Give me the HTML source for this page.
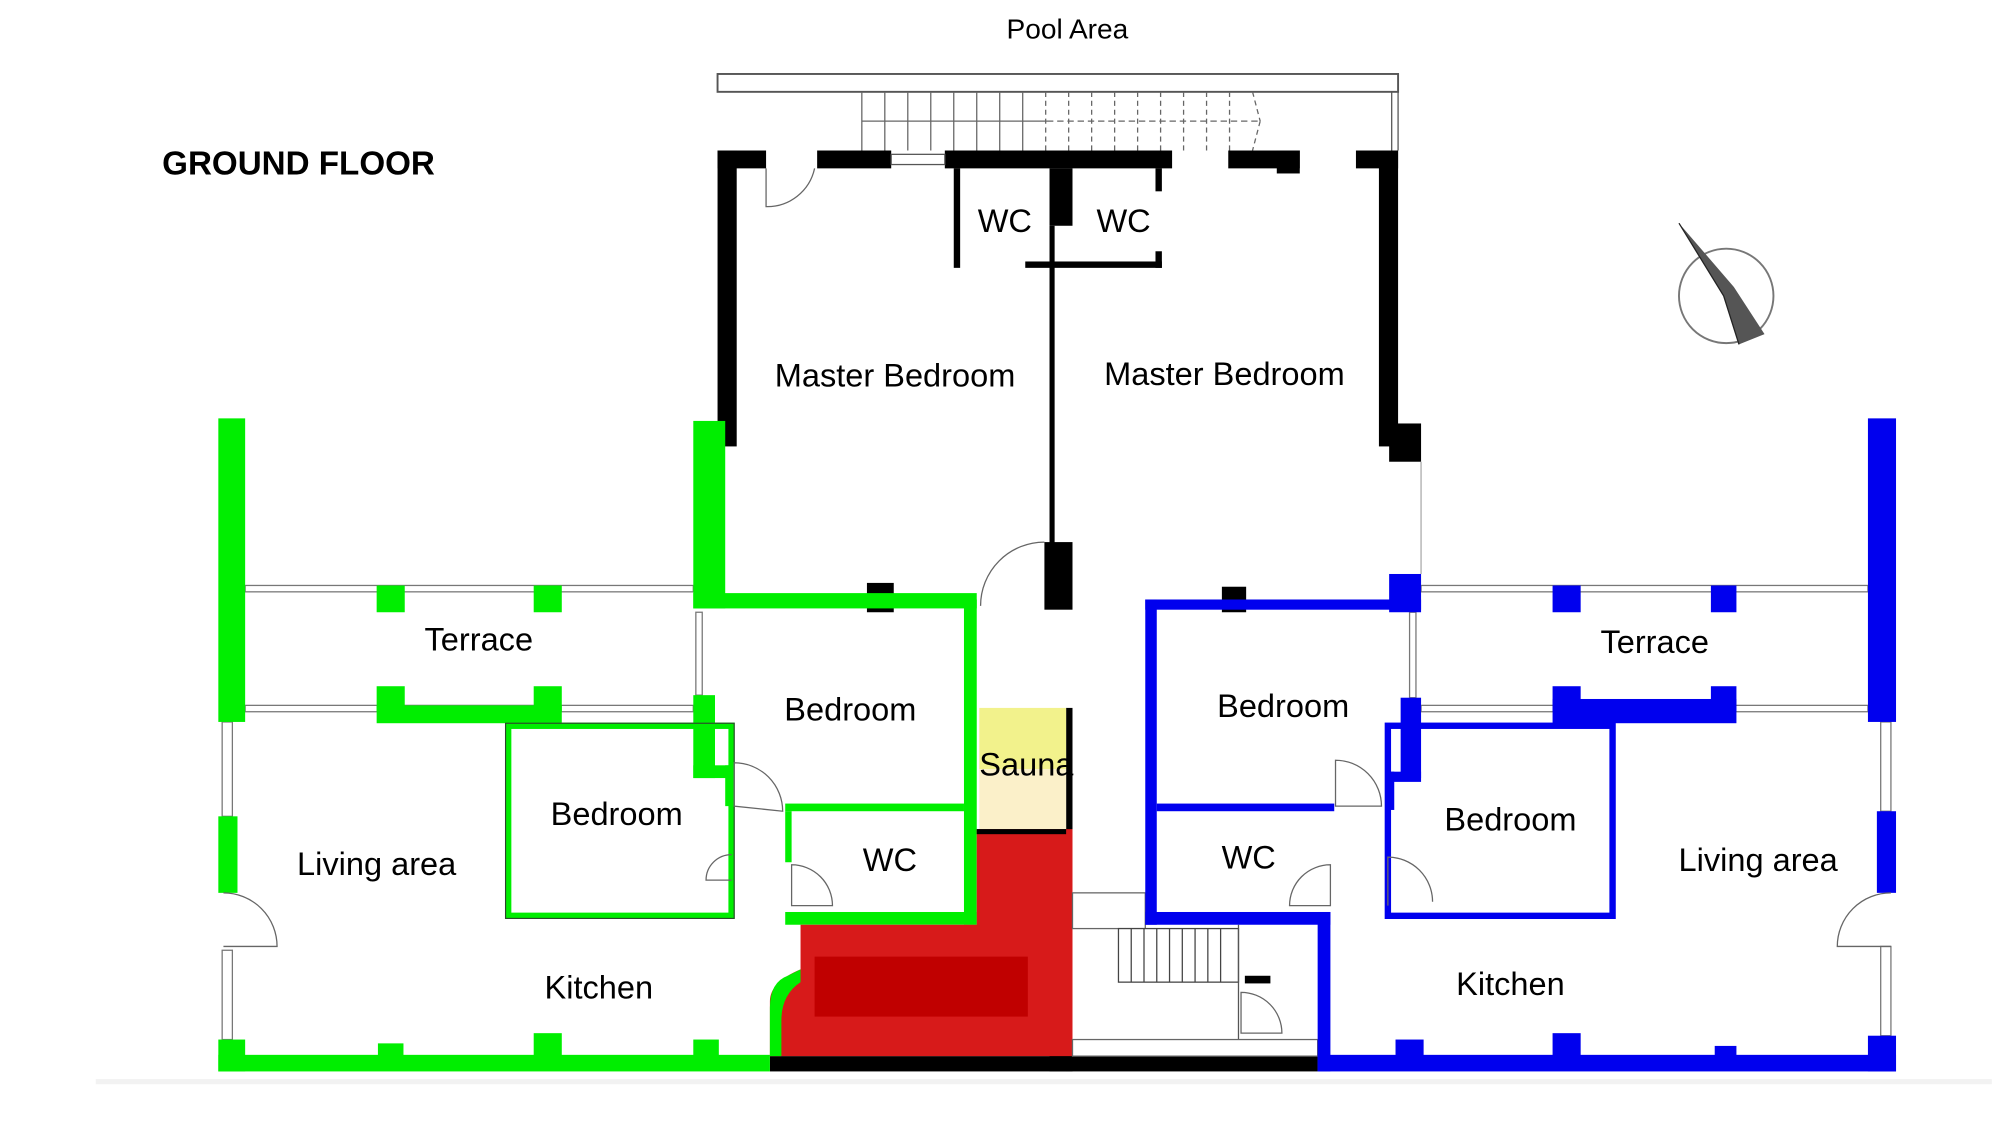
<!DOCTYPE html>
<html><head><meta charset="utf-8"><style>
html,body{margin:0;padding:0;background:#fff;}
svg{display:block;}
text{font-family:"Liberation Sans",sans-serif;fill:#000;}
</style></head><body>
<svg width="2002" height="1125" viewBox="0 0 1568 882" preserveAspectRatio="none" xmlns="http://www.w3.org/2000/svg">
<rect width="1568" height="882" fill="#fff"/>
<rect x="75" y="846" width="1485" height="4" fill="#f2f2f2"/>
<rect x="562" y="58" width="533" height="14" fill="#fff" stroke="#555" stroke-width="1.5"/>
<line x1="1090" y1="72" x2="1090" y2="118" stroke="#555"/>
<line x1="1095" y1="72" x2="1095" y2="118" stroke="#555"/>
<g stroke="#666" stroke-width="1">
<line x1="675" y1="95" x2="820" y2="95"/>
<line x1="820" y1="95" x2="985" y2="95" stroke-dasharray="5,3"/>
<line x1="675" y1="72" x2="675" y2="118"/><line x1="693" y1="72" x2="693" y2="118"/><line x1="711" y1="72" x2="711" y2="118"/><line x1="729" y1="72" x2="729" y2="118"/><line x1="747" y1="72" x2="747" y2="118"/><line x1="765" y1="72" x2="765" y2="118"/><line x1="783" y1="72" x2="783" y2="118"/><line x1="801" y1="72" x2="801" y2="118"/>
<g stroke-dasharray="4,3"><line x1="819" y1="72" x2="819" y2="118"/><line x1="837" y1="72" x2="837" y2="118"/><line x1="855" y1="72" x2="855" y2="118"/><line x1="873" y1="72" x2="873" y2="118"/><line x1="891" y1="72" x2="891" y2="118"/><line x1="909" y1="72" x2="909" y2="118"/><line x1="927" y1="72" x2="927" y2="118"/><line x1="945" y1="72" x2="945" y2="118"/><line x1="963" y1="72" x2="963" y2="118"/><line x1="981" y1="72" x2="987" y2="95"/><line x1="987" y1="95" x2="981" y2="118"/></g>
</g>
<g fill="#000">
<rect x="562" y="118" width="38" height="14"/>
<rect x="640" y="118" width="58" height="14"/>
<rect x="740" y="118" width="178" height="14"/>
<rect x="962" y="118" width="56" height="14"/>
<rect x="1000" y="118" width="18" height="18"/>
<rect x="1062" y="118" width="33" height="14"/>
<rect x="562" y="118" width="15" height="232"/>
<rect x="1080" y="118" width="15" height="232"/>
<rect x="1088" y="332" width="25" height="30"/>
<rect x="747" y="132" width="5" height="78"/>
<rect x="822" y="132" width="18" height="45"/>
<rect x="822" y="177" width="4" height="250"/>
<rect x="818" y="425" width="22" height="53"/>
<rect x="803" y="205" width="107" height="5"/>
<rect x="905" y="132" width="5" height="18"/>
<rect x="905" y="197" width="5" height="13"/>
<rect x="679" y="457" width="21" height="23"/>
<rect x="957" y="460" width="19" height="20"/>
<rect x="835" y="555" width="5" height="285"/>
<rect x="603" y="828" width="429" height="12"/>
<rect x="822" y="710" width="18" height="20"/>
<rect x="822" y="768" width="18" height="72"/>
</g>
<rect x="698" y="121" width="42" height="8" fill="#fff" stroke="#555" stroke-width="1"/>
<path d="M600 132 V162 A38 38 0 0 0 638 132" fill="none" stroke="#666"/>
<path d="M818 425 A50 50 0 0 0 768 475" fill="none" stroke="#666"/>
<line x1="1113" y1="362" x2="1113" y2="450" stroke="#aaa"/>
<g fill="#fff" stroke="#777" stroke-width="1">
<rect x="192" y="459" width="351" height="5"/>
<rect x="192" y="553" width="351" height="5"/>
<rect x="1113" y="459" width="350" height="5"/>
<rect x="1113" y="553" width="350" height="5"/>
<rect x="545" y="480" width="5" height="65"/>
<rect x="1104" y="480" width="5" height="67"/>
<rect x="174" y="566" width="8" height="74"/>
<rect x="174" y="745" width="8" height="70"/>
<rect x="1473" y="566" width="8" height="70"/>
<rect x="1473" y="742" width="8" height="70"/>
</g>
<g fill="#00ee00">
<rect x="171" y="328" width="21" height="238"/>
<rect x="171" y="640" width="15" height="60"/>
<rect x="171" y="815" width="21" height="25"/>
<rect x="171" y="827" width="432" height="13"/>
<rect x="296" y="818" width="20" height="10"/><rect x="418" y="810" width="22" height="18"/><rect x="543" y="815" width="20" height="13"/>
<rect x="295" y="459" width="22" height="21"/><rect x="418" y="459" width="22" height="21"/>
<rect x="295" y="553" width="145" height="14"/><rect x="295" y="538" width="22" height="20"/><rect x="418" y="538" width="22" height="20"/>
<rect x="543" y="330" width="25" height="147"/>
<rect x="543" y="465" width="222" height="12"/>
<rect x="755" y="470" width="10" height="255"/>
<rect x="543" y="545" width="17" height="65"/>
<rect x="543" y="600" width="32" height="10"/>
<rect x="568" y="600" width="7" height="32"/>
<rect x="615" y="630" width="140" height="6"/>
<rect x="615" y="715" width="150" height="10"/>
<rect x="615" y="636" width="5" height="40"/>
</g>
<rect x="398" y="569" width="175" height="149" fill="none" stroke="#00ee00" stroke-width="5"/>
<rect x="396" y="567" width="179" height="153" fill="none" stroke="#333" stroke-width="0.8"/>
<path d="M573 690 H553 A20 20 0 0 1 573 670" fill="none" stroke="#666"/>
<path d="M575 632 V598 A38 38 0 0 1 613 636 Z" fill="none" stroke="#666"/>
<path d="M620 710 V678 A32 32 0 0 1 652 710 Z" fill="none" stroke="#666"/>
<path d="M175 700 A42 42 0 0 1 217 742 H175" fill="none" stroke="#666"/>
<rect x="767" y="555" width="68" height="48" fill="#f2f28c"/>
<rect x="767" y="603" width="68" height="47" fill="#fbf0c9"/>
<path d="M627 725 H765 V650 H840 V828 H603 V785 Q603 770 627 760 Z" fill="#d71a1a"/>
<path d="M603 828 V790 Q603 770 617 765 L627 760 V770 Q612 780 612 800 V828 Z" fill="#00ee00"/>
<rect x="765" y="650" width="70" height="4" fill="#000"/>
<rect x="638" y="750" width="167" height="47" fill="#c00000"/>
<rect x="840" y="700" width="57" height="28" fill="#fff" stroke="#666"/>
<rect x="876" y="728" width="94" height="42" fill="#fff" stroke="#444"/>
<g stroke="#444"><line x1="886" y1="728" x2="886" y2="770"/><line x1="896" y1="728" x2="896" y2="770"/><line x1="906" y1="728" x2="906" y2="770"/><line x1="916" y1="728" x2="916" y2="770"/><line x1="926" y1="728" x2="926" y2="770"/><line x1="936" y1="728" x2="936" y2="770"/><line x1="946" y1="728" x2="946" y2="770"/><line x1="956" y1="728" x2="956" y2="770"/></g>
<line x1="970" y1="725" x2="970" y2="828" stroke="#555"/>
<rect x="975" y="765" width="20" height="6" fill="#000"/>
<path d="M972 810 V778 A32 32 0 0 1 1004 810 Z" fill="none" stroke="#666"/>
<rect x="840" y="815" width="192" height="13" fill="#fff" stroke="#666"/>
<g fill="#0000ee">
<rect x="1463" y="328" width="22" height="238"/>
<rect x="1470" y="636" width="15" height="64"/>
<rect x="1463" y="812" width="22" height="28"/>
<rect x="1032" y="827" width="453" height="13"/>
<rect x="1093" y="815" width="22" height="13"/><rect x="1216" y="810" width="22" height="18"/><rect x="1343" y="820" width="17" height="8"/>
<rect x="1216" y="459" width="22" height="21"/><rect x="1340" y="459" width="20" height="21"/>
<rect x="1216" y="548" width="144" height="19"/><rect x="1216" y="538" width="22" height="20"/><rect x="1340" y="538" width="20" height="20"/>
<rect x="1088" y="450" width="25" height="30"/>
<rect x="897" y="470" width="216" height="8"/>
<rect x="897" y="470" width="9" height="255"/>
<rect x="906" y="630" width="139" height="6"/>
<rect x="897" y="715" width="145" height="10"/>
<rect x="1032" y="715" width="10" height="125"/>
<rect x="1097" y="547" width="16" height="63"/>
<rect x="1085" y="605" width="28" height="8"/>
<rect x="1085" y="605" width="7" height="30"/>
</g>
<rect x="1087" y="569" width="176" height="149" fill="none" stroke="#0000ee" stroke-width="5"/>
<path d="M1046 632 V596 A36 36 0 0 1 1082 632 Z" fill="none" stroke="#666"/>
<path d="M1042 710 V678 A32 32 0 0 0 1010 710 Z" fill="none" stroke="#666"/>
<path d="M1087 710 V672 A35 35 0 0 1 1122 707" fill="none" stroke="#666"/>
<path d="M1481 700 A42 42 0 0 0 1439 742 H1481" fill="none" stroke="#666"/>
<circle cx="1352" cy="232" r="37" fill="none" stroke="#777" stroke-width="1.5"/>
<path d="M1315 175 L1358 225 L1382 262 L1362 270 L1350 232 Z" fill="#555"/>
<path d="M1315 175 L1350 232 L1362 270" fill="none" stroke="#222" stroke-width="1"/>
<text x="836" y="30" font-size="22" text-anchor="middle">Pool Area</text>
<text x="127" y="137" font-size="26" font-weight="bold">GROUND FLOOR</text>
<g font-size="25.5" text-anchor="middle">
<text x="787" y="182">WC</text><text x="880" y="182">WC</text>
<text x="701" y="303">Master Bedroom</text><text x="959" y="302">Master Bedroom</text>
<text x="375" y="510">Terrace</text><text x="1296" y="512">Terrace</text>
<text x="666" y="565">Bedroom</text><text x="483" y="647">Bedroom</text>
<text x="1005" y="562">Bedroom</text><text x="1183" y="651">Bedroom</text>
<text x="697" y="683">WC</text><text x="978" y="681">WC</text>
<text x="295" y="686">Living area</text><text x="1377" y="683">Living area</text>
<text x="469" y="783">Kitchen</text><text x="1183" y="780">Kitchen</text>
</g>
<text x="767" y="608" font-size="25.5">Sauna</text>
</svg>
</body></html>
